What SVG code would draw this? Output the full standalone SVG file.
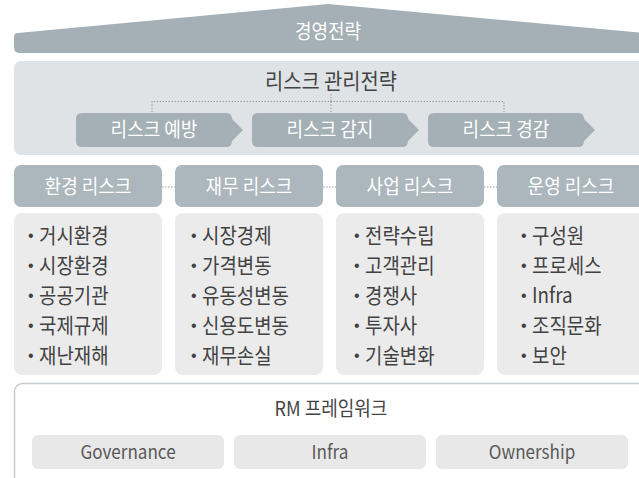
<svg xmlns="http://www.w3.org/2000/svg" width="639" height="478" viewBox="0 0 639 478">
<style>
text{font-family:"Noto Sans CJK KR","Noto Sans",sans-serif}
.w{fill:#ffffff;font-size:20px;text-anchor:middle}
.t{fill:#424242;font-size:21px}
.b{fill:#424242;font-size:16px;font-family:"Liberation Sans",sans-serif}
.d{fill:#595959;font-size:19px;text-anchor:middle}
.k{fill:#444444;text-anchor:middle}
.dot{stroke:#9a9a9a;stroke-width:1;stroke-dasharray:1.5 1.5;fill:none}
.hd{fill:#abb6bd}
.ct{fill:#ebebeb}
.sb{fill:#e8e8e8}
</style>
<defs>
<path id="btn" d="M6,0 H150 Q156,0 156,6 L167,17 L156,28 Q156,34 150,34 H6 Q0,34 0,28 V6 Q0,0 6,0 Z" fill="#a4afb6"/>
</defs>
<g id="roof">
<path d="M20,53 Q14,53 14,47 L14,37 Q14,33 18,33 L328,4 L645,33 L645,53 Z" fill="#a4afb6"/>
<text class="w" transform="translate(328,39) scale(0.9,1)">경영전략</text>
</g>
<g id="strategy">
<rect x="14" y="61" width="640" height="94" rx="7" fill="#dfe3e6"/>
<text class="k" font-size="22" transform="translate(331,89) scale(0.9,1)">리스크 관리전략</text>
</g>
<g id="connectors">
<path class="dot" d="M331,94 V101.5 M152,112 V101.5 H504 V112 M331,101.5 V112"/>
<path class="dot" d="M162,187 H175 M323,187 H336 M484,187 H497"/>
<path class="dot" d="M331,416 V423.5 M128,434 V423.5 H536 V434 M331,423.5 V434"/>
</g>
<g id="prevent"><use href="#btn" x="76" y="113"/><text class="w" transform="translate(154,137) scale(0.9,1)">리스크 예방</text></g>
<g id="detect"><use href="#btn" x="252" y="113"/><text class="w" transform="translate(330,137) scale(0.9,1)">리스크 감지</text></g>
<g id="mitigate"><use href="#btn" x="428" y="113"/><text class="w" transform="translate(506,137) scale(0.9,1)">리스크 경감</text></g>
<g id="env">
<rect class="hd" x="14" y="165" width="148" height="42" rx="7"/>
<text class="w" font-size="21" transform="translate(88,194) scale(0.9,1)">환경 리스크</text>
<rect class="ct" x="14" y="213" width="148" height="162" rx="8"/>
<text class="b" x="28" y="241">•</text><text class="t" transform="translate(39,243) scale(0.9,1)">거시환경</text>
<text class="b" x="28" y="271">•</text><text class="t" transform="translate(39,273) scale(0.9,1)">시장환경</text>
<text class="b" x="28" y="301">•</text><text class="t" transform="translate(39,303) scale(0.9,1)">공공기관</text>
<text class="b" x="28" y="331">•</text><text class="t" transform="translate(39,333) scale(0.9,1)">국제규제</text>
<text class="b" x="28" y="361">•</text><text class="t" transform="translate(39,363) scale(0.9,1)">재난재해</text>
</g>
<g id="fin">
<rect class="hd" x="175" y="165" width="148" height="42" rx="7"/>
<text class="w" font-size="21" transform="translate(249,194) scale(0.9,1)">재무 리스크</text>
<rect class="ct" x="175" y="213" width="148" height="162" rx="8"/>
<text class="b" x="191" y="241">•</text><text class="t" transform="translate(202,243) scale(0.9,1)">시장경제</text>
<text class="b" x="191" y="271">•</text><text class="t" transform="translate(202,273) scale(0.9,1)">가격변동</text>
<text class="b" x="191" y="301">•</text><text class="t" transform="translate(202,303) scale(0.9,1)">유동성변동</text>
<text class="b" x="191" y="331">•</text><text class="t" transform="translate(202,333) scale(0.9,1)">신용도변동</text>
<text class="b" x="191" y="361">•</text><text class="t" transform="translate(202,363) scale(0.9,1)">재무손실</text>
</g>
<g id="biz">
<rect class="hd" x="336" y="165" width="148" height="42" rx="7"/>
<text class="w" font-size="21" transform="translate(410,194) scale(0.9,1)">사업 리스크</text>
<rect class="ct" x="336" y="213" width="148" height="162" rx="8"/>
<text class="b" x="354" y="241">•</text><text class="t" transform="translate(365,243) scale(0.9,1)">전략수립</text>
<text class="b" x="354" y="271">•</text><text class="t" transform="translate(365,273) scale(0.9,1)">고객관리</text>
<text class="b" x="354" y="301">•</text><text class="t" transform="translate(365,303) scale(0.9,1)">경쟁사</text>
<text class="b" x="354" y="331">•</text><text class="t" transform="translate(365,333) scale(0.9,1)">투자사</text>
<text class="b" x="354" y="361">•</text><text class="t" transform="translate(365,363) scale(0.9,1)">기술변화</text>
</g>
<g id="ops">
<rect class="hd" x="497" y="165" width="160" height="42" rx="7"/>
<text class="w" font-size="21" transform="translate(571,194) scale(0.9,1)">운영 리스크</text>
<rect class="ct" x="497" y="213" width="160" height="162" rx="8"/>
<text class="b" x="521" y="241">•</text><text class="t" transform="translate(532,243) scale(0.9,1)">구성원</text>
<text class="b" x="521" y="271">•</text><text class="t" transform="translate(532,273) scale(0.9,1)">프로세스</text>
<text class="b" x="521" y="301">•</text><text class="t" transform="translate(532,303) scale(0.9,1)">Infra</text>
<text class="b" x="521" y="331">•</text><text class="t" transform="translate(532,333) scale(0.9,1)">조직문화</text>
<text class="b" x="521" y="361">•</text><text class="t" transform="translate(532,363) scale(0.9,1)">보안</text>
</g>
<g id="rm">
<rect x="14.5" y="383.5" width="650" height="110" rx="8" fill="#ffffff" stroke="#c5ccd0" stroke-width="1.5"/>
<text class="k" font-size="20" transform="translate(331,416) scale(0.9,1)">RM 프레임워크</text>
</g>
<g id="governance"><rect class="sb" x="32" y="435" width="192" height="34" rx="6"/><text class="d" transform="translate(128,459) scale(0.9,1)">Governance</text></g>
<g id="infra"><rect class="sb" x="234" y="435" width="192" height="34" rx="6"/><text class="d" transform="translate(330,459) scale(0.9,1)">Infra</text></g>
<g id="ownership"><rect class="sb" x="436" y="435" width="192" height="34" rx="6"/><text class="d" transform="translate(532,459) scale(0.9,1)">Ownership</text></g>
</svg>
